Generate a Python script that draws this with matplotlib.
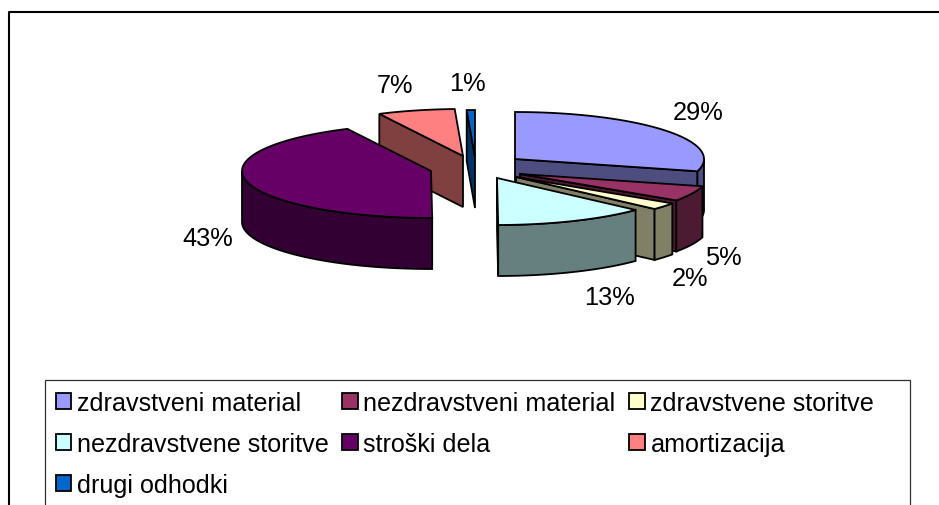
import numpy as np
import matplotlib
matplotlib.use('Agg')
import matplotlib.pyplot as plt
from matplotlib.patches import Polygon, Patch, Rectangle

plt.rcParams['font.family'] = ['Liberation Sans', 'DejaVu Sans']

categories = ['zdravstveni material', 'nezdravstveni material', 'zdravstvene storitve',
              'nezdravstvene storitve', 'stroški dela', 'amortizacija', 'drugi odhodki']
values = [29.2, 5.3, 2.4, 13.0, 42.8, 6.6, 0.7]

top_colors = ['#9999FF', '#993366', '#FFFFCC', '#CCFFFF', '#660066', '#FF8080', '#0066CC']
side_colors = ['#4D4D80', '#4D1A33', '#808066', '#668080', '#330033', '#804040', '#003366']

# exploded pie, everything in pixels of the picture
rx, ry, depth = 189, 47, 51
apex = [(515, 160), (520, 175), (516, 178), (497, 179), (431, 172), (463, 157), (475, 158)]
label_pos = [(698, 113), (723, 258), (690, 279), (609, 298), (208, 239), (395, 86), (467, 84)]

fig = plt.figure(figsize=(9.39, 5.06), dpi=100)
ax = fig.add_axes([0, 0, 1, 1])
ax.set_xlim(0, 939)
ax.set_ylim(506, 0)
ax.axis('off')

# outer chart frame
ax.plot([9, 9, 939], [506, 13, 13], color='black', lw=1.5, clip_on=False)

edges = np.cumsum([0] + values) / sum(values) * 360


def rim(center, t):
    t = np.radians(t)
    return np.column_stack([center[0] + rx * np.sin(t), center[1] - ry * np.cos(t)])


def draw_slice(i):
    c = np.array(apex[i], dtype=float)
    a, b = edges[i], edges[i + 1]
    down = np.array([0, depth])
    # cut faces turned to the viewer
    for t in (a, b):
        if (t == a and 180 < t < 360) or (t == b and 0 < t < 180):
            p = rim(c, [t])[0]
            ax.add_patch(Polygon([c, p, p + down, c + down], fc=side_colors[i], ec='black', lw=1.3))
    # outer wall, only the front part of the ellipse
    lo, hi = max(a, 90), min(b, 270)
    if hi > lo:
        arc = rim(c, np.linspace(lo, hi, 40))
        ax.add_patch(Polygon(np.vstack([arc, arc[::-1] + down]), fc=side_colors[i], ec='black', lw=1.3))
    # top face
    arc = rim(c, np.linspace(a, b, 60))
    ax.add_patch(Polygon(np.vstack([c, arc]), fc=top_colors[i], ec='black', lw=1.3))


for i in [6, 5, 4, 0, 1, 2, 3]:
    draw_slice(i)

for v, (x, y) in zip(values, label_pos):
    ax.text(x, y, '%d%%' % round(v), fontsize=18.3, ha='center', va='center', color='black')

# legend box runs past the bottom of the picture
ax.add_patch(Rectangle((45, 381), 865, 140, fc='white', ec='#303030', lw=0.9))

# legend fills by column, so reorder to read row by row
order = [0, 3, 6, 1, 4, 2, 5]
handles = [Patch(fc=top_colors[i], ec='black', lw=1.3, label=categories[i]) for i in order]
leg = ax.legend(handles=handles, ncols=3, loc='upper left', bbox_to_anchor=(45, 381),
                bbox_transform=ax.transData, fontsize=18.1, frameon=False,
                borderaxespad=0, borderpad=0.42,
                handlelength=0.62, handleheight=0.62, handletextpad=0.22,
                columnspacing=0.55, labelspacing=0.68)

fig.savefig('out.png', dpi=100)
